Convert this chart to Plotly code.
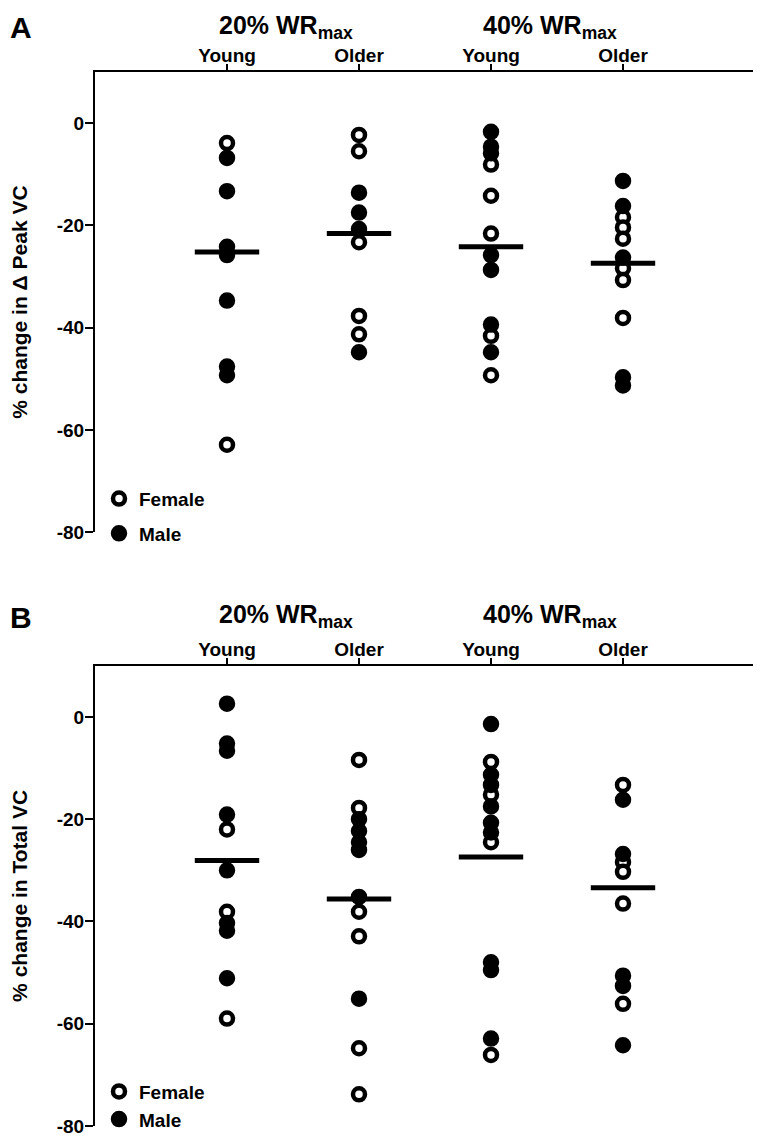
import plotly.graph_objects as go

# ---------------- data ----------------
group_pos = [1, 2, 3, 4]
group_labels = ["Young", "Older", "Young", "Older"]
intensity_labels = ["20% WR<sub>max</sub>", "40% WR<sub>max</sub>"]
yticks = [0, -20, -40, -60, -80]
ytick_text = ["0", "-20", "-40", "-60", "-80"]

# Panel A: % change in delta peak VC
a_female = [
    [-3.9, -62.9],
    [-2.3, -5.5, -23.3, -37.7, -41.3],
    [-8.1, -14.2, -21.6, -41.6, -49.3],
    [-18.4, -20.4, -22.6, -28.4, -30.7, -38.1],
]
a_male = [
    [-6.8, -13.3, -24.2, -25.8, -34.7, -47.6, -49.3],
    [-13.6, -17.5, -20.7, -44.8],
    [-1.7, -4.6, -5.9, -25.8, -28.7, -39.4, -44.8],
    [-11.3, -16.2, -26.3, -49.7, -51.3],
]
a_mean = [-25.2, -21.6, -24.2, -27.4]

# Panel B: % change in total VC
b_female = [
    [-22.0, -38.1, -59.0],
    [-8.4, -17.8, -38.1, -42.9, -64.8, -73.8],
    [-8.8, -15.2, -24.5, -66.1],
    [-13.3, -28.4, -30.3, -36.5, -56.1],
]
b_male = [
    [2.6, -5.2, -6.6, -19.1, -30.0, -40.3, -41.8, -51.1],
    [-20.0, -22.3, -24.5, -26.0, -35.2, -55.1],
    [-1.4, -11.3, -13.3, -17.5, -20.7, -22.6, -48.0, -49.5, -62.9],
    [-16.2, -26.8, -50.6, -52.6, -64.2],
]
b_mean = [-28.1, -35.6, -27.4, -33.4]

# ---------------- style ----------------
FONT = "Liberation Sans, Arial, sans-serif"
OFF = 8                      # page body margin
W, H = 761 - OFF, 1145 - OFF
ML, MR, MT, MB = 87, 6, 64, 8
PW = W - ML - MR
PH = H - MT - MB


def py(screen_px):  # screen row -> paper y
    return (H - MB - (screen_px - OFF)) / PH


def px(screen_px):  # screen column -> paper x
    return (screen_px - OFF - ML) / PW


def flat(groups):
    xs, ys = [], []
    for pos, vals in zip(group_pos, groups):
        xs += [pos] * len(vals)
        ys += vals
    return xs, ys


fig = go.Figure()


def add_panel(female, male, means, xa, ya, legend):
    fx, fy = flat(female)
    mx, my = flat(male)
    fig.add_trace(go.Scatter(
        x=fx, y=fy, mode="markers", name="Female", xaxis=xa, yaxis=ya,
        legend=legend, legendgroup=legend + "f", cliponaxis=False,
        marker=dict(symbol="circle", size=12, color="white",
                    line=dict(color="black", width=4.5)),
    ))
    fig.add_trace(go.Scatter(
        x=mx, y=my, mode="markers", name="Male", xaxis=xa, yaxis=ya,
        legend=legend, legendgroup=legend + "m", cliponaxis=False,
        marker=dict(symbol="circle", size=12, color="black",
                    line=dict(color="black", width=4.5)),
    ))
    fig.add_trace(go.Scatter(
        x=group_pos, y=means, mode="markers", showlegend=False,
        xaxis=xa, yaxis=ya, cliponaxis=False, hoverinfo="y",
        marker=dict(symbol="line-ew", size=46,
                    line=dict(color="black", width=5)),
    ))


add_panel(a_female, a_male, a_mean, "x", "y", "legend")
add_panel(b_female, b_male, b_mean, "x2", "y2", "legend2")

bold = dict(family=FONT, size=19, color="black", weight="bold")
title_font = dict(family=FONT, size=21, color="black", weight="bold")

xax = dict(range=[0, 5], side="top", tickvals=group_pos, ticktext=group_labels,
           ticks="outside", ticklen=6, tickwidth=2, tickcolor="black",
           showline=True, linewidth=2, linecolor="black", showgrid=False,
           zeroline=False, tickfont=bold, ticklabelstandoff=-6,
           fixedrange=True, automargin=False)
yax = dict(range=[-80, 10], tickvals=yticks, ticktext=ytick_text,
           ticks="outside", ticklen=8,
           tickwidth=2, tickcolor="black", showline=True, linewidth=2,
           linecolor="black", showgrid=False, zeroline=False, tickfont=bold,
           ticklabelstandoff=-3, automargin=False)

fig.update_layout(
    width=W, height=H,
    margin=dict(l=ML, r=MR, t=MT, b=MB),
    paper_bgcolor="white", plot_bgcolor="white",
    font=dict(family=FONT, color="black"),
    xaxis=dict(xax, anchor="y", domain=[0, 1]),
    yaxis=dict(yax, anchor="x", domain=[py(537), 1],
               title=dict(text="% change in Δ Peak VC", font=title_font,
                          standoff=23)),
    xaxis2=dict(xax, anchor="y2", domain=[0, 1]),
    yaxis2=dict(yax, anchor="x2", domain=[0, py(672)],
                title=dict(text="% change in Total VC", font=title_font,
                           standoff=23)),
    legend=dict(x=px(99), y=py(484), xanchor="left", yanchor="top",
                font=bold, bgcolor="rgba(0,0,0,0)", traceorder="grouped",
                tracegroupgap=7, itemsizing="trace"),
    legend2=dict(x=px(99), y=py(1083), xanchor="left", yanchor="top",
                 font=bold, bgcolor="rgba(0,0,0,0)", traceorder="grouped",
                 tracegroupgap=0, itemsizing="trace"),
    showlegend=True,
)

# panel letters
for letter, pxy in [("A", 8), ("B", 604)]:
    fig.add_annotation(text=letter, xref="paper", yref="paper",
                       x=px(OFF), y=py(pxy), xanchor="left",
                       yanchor="top", showarrow=False,
                       font=dict(family=FONT, size=30, color="black",
                                 weight="bold"))

# intensity headers
for xa, pxy in [("x", 8), ("x2", 603)]:
    for label, xpos in zip(intensity_labels, [1.45, 3.45]):
        fig.add_annotation(text=label, xref=xa, yref="paper", x=xpos,
                           y=py(pxy), xanchor="center", yanchor="top",
                           showarrow=False,
                           font=dict(family=FONT, size=25, color="black",
                                     weight="bold"))

fig.write_html("out.html")
